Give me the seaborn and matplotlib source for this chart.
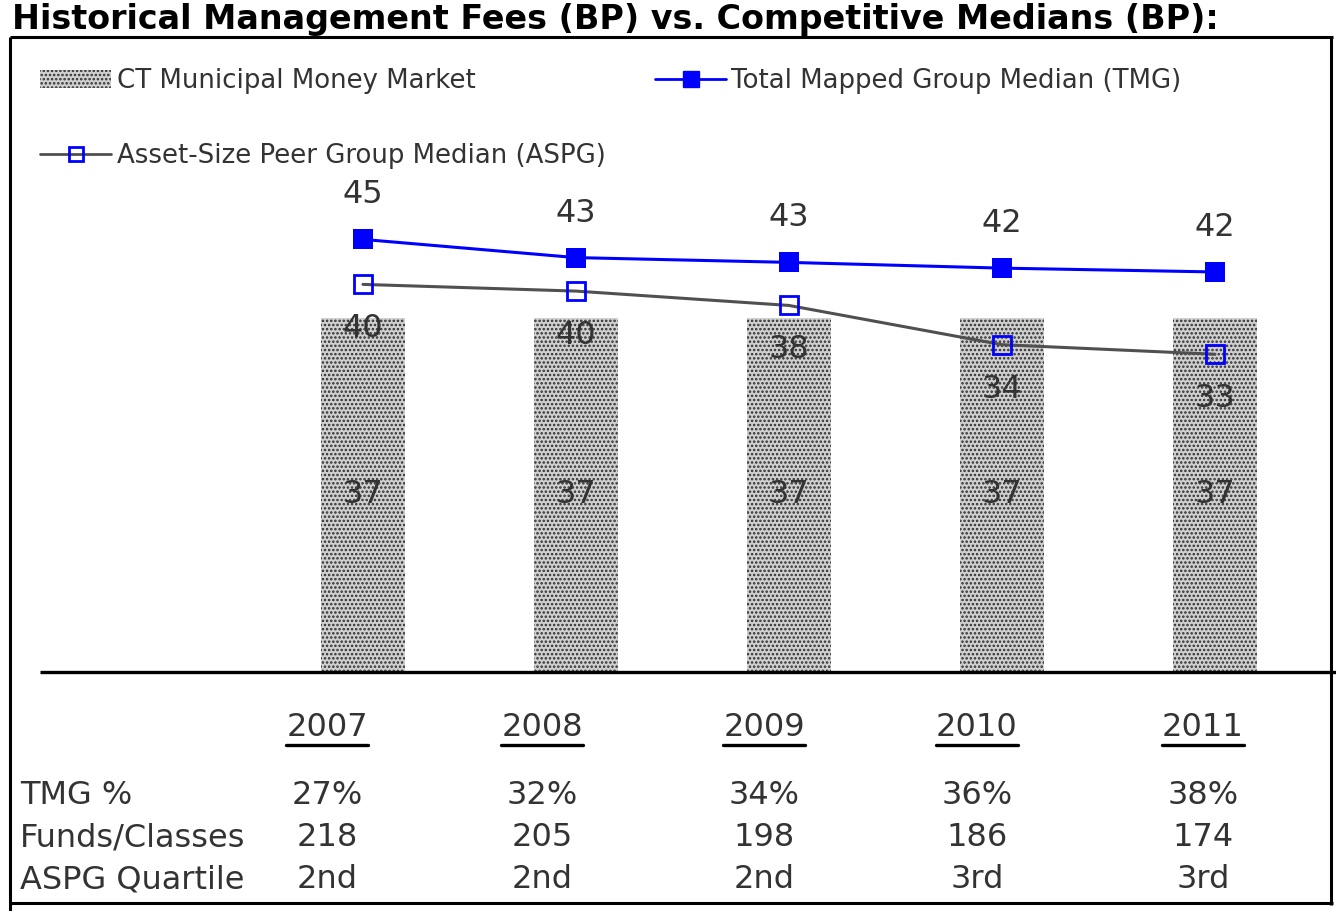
import matplotlib
matplotlib.use('Agg')
import matplotlib.pyplot as plt
import matplotlib.patches as mpatches
from matplotlib.lines import Line2D
import seaborn as sns
import pandas as pd

# ---------------- data ----------------
years = [2007, 2008, 2009, 2010, 2011]
ct_fee = [37, 37, 37, 37, 37]
tmg_median = [45.2, 43.3, 42.8, 42.2, 41.8]
aspg_median = [40.5, 39.8, 38.3, 34.2, 33.2]
tmg_pct = ['27%', '32%', '34%', '36%', '38%']
funds_classes = ['218', '205', '198', '186', '174']
aspg_quartile = ['2nd', '2nd', '2nd', '3rd', '3rd']
row_labels = ['TMG %', 'Funds/Classes', 'ASPG Quartile']
series_names = ['CT Municipal Money Market',
                'Total Mapped Group Median (TMG)',
                'Asset-Size Peer Group Median (ASPG)']
title = 'Historical Management Fees (BP) vs. Competitive Medians (BP):'

df = pd.DataFrame({'year': years, 'ct': ct_fee, 'tmg': tmg_median, 'aspg': aspg_median})

sns.set_style('white')
plt.rcParams['font.family'] = ['DejaVu Sans']
plt.rcParams['hatch.color'] = '#2e2e2e'
plt.rcParams['hatch.linewidth'] = 1.2

W, H = 1336, 911
fig = plt.figure(figsize=(W / 100, H / 100), dpi=100)


def fx(px):
    return px / W


def fy(py):
    return 1 - py / H


TXT = '#333333'
BLUE = '#0000ff'
BAR_FACE = '#d0d0d0'
HATCH = '....'

ax = fig.add_axes([fx(40), fy(672), fx(1331) - fx(40), fy(37) - fy(672)])
sns.barplot(data=df, x='year', y='ct', native_scale=True, width=0.394,
            color=BAR_FACE, saturation=1, linewidth=0, ax=ax)
for p in ax.patches:
    p.set_hatch(HATCH)
    p.set_edgecolor('#2e2e2e')
    p.set_linewidth(0)

sns.lineplot(data=df, x='year', y='aspg', color='#505050', linewidth=2.2,
             marker='s', markersize=13, mfc='none', mec=BLUE, mew=2, ax=ax)
sns.lineplot(data=df, x='year', y='tmg', color=BLUE, linewidth=2.2,
             marker='s', markersize=14, mfc=BLUE, mec=BLUE, mew=0, ax=ax)

ax.set_xlim(2007 - 1.5164, 2007 + 4.5446)
ax.set_ylim(0, 66.35)
for s in ax.spines.values():
    s.set_visible(False)
ax.set_xticks([])
ax.set_yticks([])
ax.set_xlabel('')
ax.set_ylabel('')
ax.patch.set_alpha(0)

NFS = 23
for x, v in zip(years, tmg_median):
    ax.annotate(f'{v:.0f}', (x, v), xytext=(0, 32), textcoords='offset points',
                ha='center', va='center', fontsize=NFS, color=TXT)
for x, v in zip(years, aspg_median):
    ax.annotate(f'{v:.0f}', (x, v), xytext=(0, -32), textcoords='offset points',
                ha='center', va='center', fontsize=NFS, color=TXT)
for x, v in zip(years, ct_fee):
    ax.annotate(f'{v:.0f}', (x, v / 2), ha='center', va='center', fontsize=NFS, color=TXT)

# legend
bar_h = mpatches.Patch(facecolor=BAR_FACE, edgecolor='#2e2e2e', hatch=HATCH, linewidth=0)
tmg_h = Line2D([], [], color=BLUE, lw=2, marker='s', markersize=12, mfc=BLUE, mec=BLUE)
aspg_h = Line2D([], [], color='#505050', lw=2, marker='s', markersize=10, mfc='none', mec=BLUE, mew=2)
leg = ax.legend(handles=[bar_h, aspg_h, tmg_h],
                labels=[series_names[0], series_names[2], series_names[1]],
                ncol=2, loc='upper left', bbox_to_anchor=(fx(40), fy(68)),
                bbox_transform=fig.transFigure, frameon=False, borderaxespad=0,
                borderpad=0, handlelength=2.75, handletextpad=0.2, columnspacing=1.9,
                labelspacing=1.9, fontsize=18.7)
for t in leg.get_texts():
    t.set_color(TXT)

# title
fig.text(fx(12), fy(19), title, fontsize=24, weight='bold', ha='left', va='center', color='black')

# frame lines
def fline(x0, y0, x1, y1, lw):
    fig.add_artist(Line2D([fx(x0), fx(x1)], [fy(y0), fy(y1)], transform=fig.transFigure,
                          color='black', lw=lw, solid_capstyle='butt'))

fline(10, 37, 1333, 37, 2.2)
fline(10, 37, 10, 911, 2.2)
fline(1331, 37, 1331, 905, 2.2)
fline(10, 903, 1333, 903, 2.2)
fline(40, 672, 1336, 672, 2.4)

# table
col_x = [327, 542, 764, 977, 1203]
row_y = [796, 838, 880]
header_y = 728
tfs = 23
headers = []
for cx, yr in zip(col_x, years):
    headers.append(fig.text(fx(cx), fy(header_y), str(yr), fontsize=tfs, ha='center',
                            va='center', color=TXT))
for ry, lab in zip(row_y, row_labels):
    fig.text(fx(20), fy(ry), lab, fontsize=tfs, ha='left', va='center', color=TXT)
for ry, vals in zip(row_y, [tmg_pct, funds_classes, aspg_quartile]):
    for cx, v in zip(col_x, vals):
        fig.text(fx(cx), fy(ry), v, fontsize=tfs, ha='center', va='center', color=TXT)

fig.canvas.draw()
r = fig.canvas.get_renderer()
for t in headers:
    bb = t.get_window_extent(r)
    y = bb.y0 - 1
    fig.add_artist(Line2D([bb.x0 / W, bb.x1 / W], [y / H, y / H], transform=fig.transFigure,
                          color='black', lw=2.4))

fig.savefig('out.png', dpi=100)
